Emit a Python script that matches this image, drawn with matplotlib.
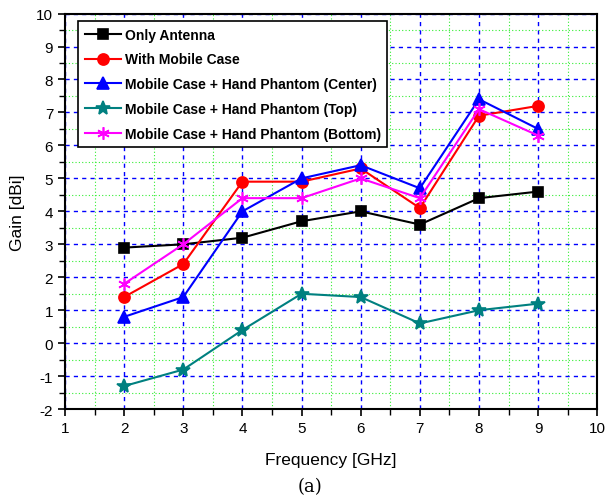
import matplotlib
matplotlib.use("Agg")
from matplotlib import pyplot as plt
from matplotlib.ticker import MultipleLocator

freq = [2, 3, 4, 5, 6, 7, 8, 9]
only_antenna = [2.9, 3.0, 3.2, 3.7, 4.0, 3.6, 4.4, 4.6]
with_case = [1.4, 2.4, 4.9, 4.9, 5.3, 4.1, 6.9, 7.2]
hand_center = [0.8, 1.4, 4.0, 5.0, 5.4, 4.7, 7.4, 6.5]
hand_top = [-1.3, -0.8, 0.4, 1.5, 1.4, 0.6, 1.0, 1.2]
hand_bottom = [1.8, 3.0, 4.4, 4.4, 5.0, 4.4, 7.1, 6.3]

series = [
    ("Only Antenna", only_antenna, "black", "s", 7),
    ("With Mobile Case", with_case, "red", "o", 8),
    ("Mobile Case + Hand Phantom (Center)", hand_center, "blue", "^", 8),
    ("Mobile Case + Hand Phantom (Top)", hand_top, "#008080", "*", 10),
    ("Mobile Case + Hand Phantom (Bottom)", hand_bottom, "magenta", (6, 2, 0), 9),
]

plt.rcParams['font.family'] = ['Liberation Sans', 'DejaVu Sans']
plt.rcParams['axes.unicode_minus'] = False

fig = plt.figure(figsize=(6.07, 5.02), dpi=100)
ax = fig.add_axes([0.107, 0.183, 0.877, 0.788])

for label, vals, color, marker, ms in series:
    ax.plot(freq, vals, color=color, lw=1.5, marker=marker, ms=ms,
            mew=1.2, label=label)

ax.set_xlim(1, 10)
ax.set_ylim(-2, 10)
ax.xaxis.set_major_locator(MultipleLocator(1))
ax.yaxis.set_major_locator(MultipleLocator(1))
ax.xaxis.set_minor_locator(MultipleLocator(0.5))
ax.yaxis.set_minor_locator(MultipleLocator(0.5))
ax.grid(which="major", color="blue", ls=(0, (3, 3)), lw=1.0)
ax.grid(which="minor", color="#33ee33", ls=(0, (1, 2)), lw=0.8)
ax.set_axisbelow(True)
ax.tick_params(which="major", direction="out", length=5, width=1.2, labelsize=11)
ax.tick_params(which="minor", direction="out", length=4, width=1.0)
for s in ax.spines.values():
    s.set_linewidth(1.5)

ax.set_xlabel("Frequency [GHz]", fontsize=12.5, labelpad=12)
ax.set_ylabel("Gain [dBi]", fontsize=12.5, labelpad=8)

leg = ax.legend(loc="upper left", bbox_to_anchor=(0.012, 0.998),
                prop={'weight': 'bold', 'size': 10}, fancybox=False,
                edgecolor="black", framealpha=1, handlelength=2.6,
                borderpad=0.45, labelspacing=0.78, handletextpad=0.3)
leg.get_frame().set_linewidth(1.2)

fig.text(0.51, 0.012, "(a)", ha="center", va="bottom",
         family=["DejaVu Serif"], fontsize=13)

fig.savefig("out.png", dpi=100)
